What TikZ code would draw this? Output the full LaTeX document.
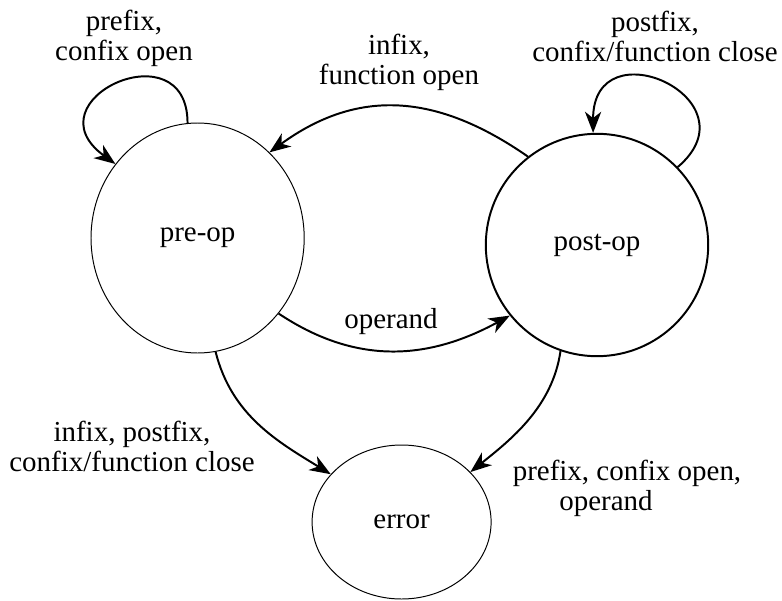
\documentclass[tikz,border=0pt]{standalone}
\usepackage{fontspec}
\setmainfont{Liberation Serif}
\usetikzlibrary{arrows.meta,shapes.geometric}

\begin{document}
\begin{tikzpicture}[font=\fontsize{20.6}{21.3}\selectfont,
  state/.style={draw, ellipse, inner sep=0pt, line width=0.7pt},
  trans/.style={-{Stealth[length=15pt,width=11.5pt,inset=4.5pt]}, line width=1.4pt},
  lbl/.style={align=center, inner sep=0pt}]
\useasboundingbox (0,0) rectangle (19.55,15);

% states
\node[state, minimum width=5.33cm, minimum height=5.75cm] (pre) at (4.94,9.05) {pre-op};
\node[state, circle, minimum size=5.56cm, line width=1.4pt] (post) at (14.925,8.875) {post-op};
\node[state, minimum width=4.475cm, minimum height=3.85cm] (err) at (10.04,1.95) {error};

% transitions
\draw[trans] (pre.95) .. controls +(0,2.4) and +(-2.2,1.6) .. (pre.138);
\draw[trans] (post.44) .. controls +(2.0,1.7) and +(0,2.7) .. (post.92);
\draw[trans] (post.128) .. controls +(-2.3,1.6) and +(2.2,1.6) .. (pre.50);
\draw[trans] (pre.-43) .. controls +(1.8,-1.2) and +(-2.2,-1.2) .. (post.219);
\draw[trans] (pre.-81) .. controls +(0.4,-1.6) and +(-1.3,0.8) .. (err.146);
\draw[trans] (post.251) .. controls +(-0.2,-1.4) and +(1.0,0.8) .. (err.36);

% labels
\node[lbl] (lprefix) at (3.1,14.05) {prefix,\\confix open};
\node[lbl] (linfix) at (9.975,13.45) {infix,\\function open};
\node[lbl] (lpostfix) at (16.375,14.1) {postfix,\\confix/function close};
\node[lbl] (loperand) at (9.775,6.95) {operand};
\node[lbl] (lpreerr) at (3.3,3.85) {infix, postfix,\\confix/function close};
\node[lbl] (lposterr) at (15.675,2.8) {prefix, confix open,\\\hspace*{-1.05cm}operand};

\end{tikzpicture}
\end{document}
